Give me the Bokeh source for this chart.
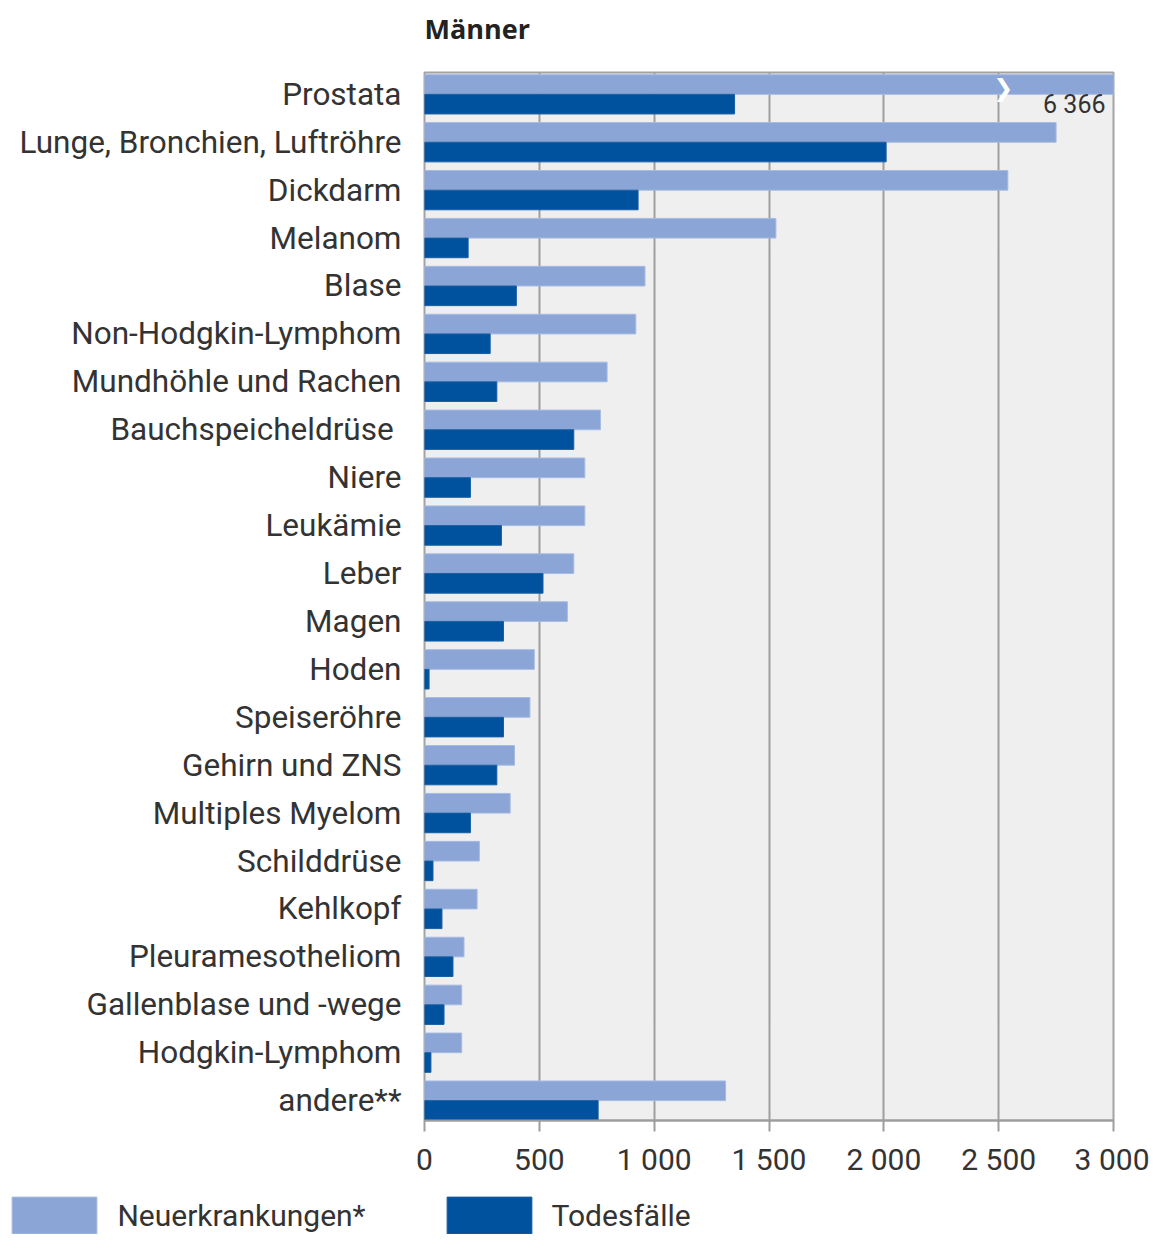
import numpy as np
from bokeh.plotting import figure
from bokeh.layouts import column
from bokeh.models import (ColumnDataSource, FixedTicker, Range1d, Legend, LegendItem, Label)
from bokeh.embed import file_html
from bokeh.resources import INLINE

title_text = "Männer"
categories = ["Prostata", "Lunge, Bronchien, Luftröhre", "Dickdarm", "Melanom", "Blase",
              "Non-Hodgkin-Lymphom", "Mundhöhle und Rachen", "Bauchspeicheldrüse ", "Niere",
              "Leukämie", "Leber", "Magen", "Hoden", "Speiseröhre", "Gehirn und ZNS",
              "Multiples Myelom", "Schilddrüse", "Kehlkopf", "Pleuramesotheliom",
              "Gallenblase und -wege", "Hodgkin-Lymphom", "andere**"]
neuerkrankungen = [6366, 2750, 2540, 1530, 960, 920, 795, 766, 698, 698, 650, 622,
                   478, 459, 392, 373, 239, 229, 172, 162, 162, 1311]
todesfaelle = [1350, 2010, 930, 190, 400, 286, 315, 650, 200, 335, 516, 344,
               20, 344, 315, 200, 37, 76, 124, 85, 28, 756]
x_ticks = [0, 500, 1000, 1500, 2000, 2500, 3000]
x_tick_labels = ["0", "500", "1 000", "1 500", "2 000", "2 500", "3 000"]
series_labels = ["Neuerkrankungen*", "Todesfälle"]

LIGHT = "#8aa5d6"
DARK = "#00529e"
LIGHT_EDGE = "#a6bbe2"
DARK_EDGE = "#1a5fa3"
FONT = "Roboto"
h = 0.41
W = 1149
LEFT = 424


def strip(height):
    f = figure(width=W, height=height, output_backend="svg", toolbar_location=None,
               x_range=Range1d(0, 1), y_range=Range1d(0, 1), min_border=0,
               x_axis_location=None, y_axis_location=None)
    f.frame_align = False
    f.outline_line_color = None
    f.xgrid.visible = False
    f.ygrid.visible = False
    return f


# title strip
top = strip(64)
top.add_layout(Label(x=LEFT, y=36, x_units="screen", y_units="screen", text=title_text,
                     text_font="Open Sans", text_font_size="27px", text_font_style="bold",
                     text_color="#222222", text_align="left", text_baseline="middle"))

idx = np.arange(len(categories))
src = ColumnDataSource(dict(
    y_new=idx - h / 2, y_tod=idx + h / 2,
    new=neuerkrankungen, tod=todesfaelle, cat=categories))

p = figure(width=W, height=1116, output_backend="svg", toolbar_location=None,
           x_range=Range1d(0, 3000), y_range=Range1d(len(categories) - 1 + h + 0.005, -h - 0.045),
           min_border_left=LEFT, min_border_right=36, min_border_top=8, min_border_bottom=60)
p.frame_align = False

p.hbar(y="y_new", right="new", left=0, height=h, source=src, fill_color=LIGHT,
       line_color=LIGHT_EDGE, line_width=1)
p.hbar(y="y_tod", right="tod", left=0, height=h, source=src, fill_color=DARK,
       line_color=DARK_EDGE, line_width=1)

p.background_fill_color = "#efefef"
p.border_fill_color = "white"
p.outline_line_color = "#a3a3a3"
p.outline_line_width = 2

p.ygrid.grid_line_color = None
p.xgrid.grid_line_color = "#9e9e9e"
p.xgrid.grid_line_width = 2
p.xgrid.ticker = FixedTicker(ticks=x_ticks)

xa = p.xaxis[0]
xa.ticker = FixedTicker(ticks=x_ticks)
xa.major_label_overrides = {t: l for t, l in zip(x_ticks, x_tick_labels)}
xa.axis_line_color = "#9e9e9e"
xa.axis_line_width = 2
xa.major_tick_line_color = "#9e9e9e"
xa.major_tick_line_width = 2
xa.major_tick_out = 11
xa.major_tick_in = 0
xa.minor_tick_line_color = None
xa.major_label_text_font = FONT
xa.major_label_text_font_size = "30px"
xa.major_label_text_color = "#333333"
xa.major_label_standoff = 10

ya = p.yaxis[0]
ya.ticker = FixedTicker(ticks=list(range(len(categories))))
ya.major_label_overrides = {int(i): c for i, c in zip(idx, categories)}
ya.axis_line_color = None
ya.major_tick_line_color = None
ya.minor_tick_line_color = None
ya.major_label_text_font = FONT
ya.major_label_text_font_size = "31.5px"
ya.major_label_text_color = "#333333"
ya.major_label_standoff = 17

# overflow marker for the clipped Prostata bar
p.add_layout(Label(x=2520, y=-h / 2, y_offset=-4, text="❯", text_color="white",
                   text_font="DejaVu Sans", text_font_size="24px", text_align="center",
                   text_baseline="middle"))
p.add_layout(Label(x=3000, y=h / 2, x_offset=-8, text=f"{neuerkrankungen[0]:,}".replace(",", " "),
                   text_color="#333333", text_font=FONT, text_font_size="25px",
                   text_align="right", text_baseline="middle"))

# legend strip (proxy glyphs lie outside the visible range)
lg = strip(54)
g1 = lg.hbar(y=[-5], right=[1], height=0.1, fill_color=LIGHT, line_color=LIGHT_EDGE)
g2 = lg.hbar(y=[-5], right=[1], height=0.1, fill_color=DARK, line_color=DARK_EDGE)
legend = Legend(items=[LegendItem(label=series_labels[0], renderers=[g1]),
                       LegendItem(label=series_labels[1], renderers=[g2])],
                orientation="horizontal", location=(1.4, -4),
                glyph_width=106, glyph_height=46, label_height=46, label_standoff=10,
                spacing=70, padding=0, margin=0, border_line_color=None,
                background_fill_alpha=0, label_text_font=FONT,
                label_text_font_size="30px", label_text_color="#333333")
lg.add_layout(legend, "center")

open("out.html", "w").write(file_html(column(top, p, lg), INLINE))
